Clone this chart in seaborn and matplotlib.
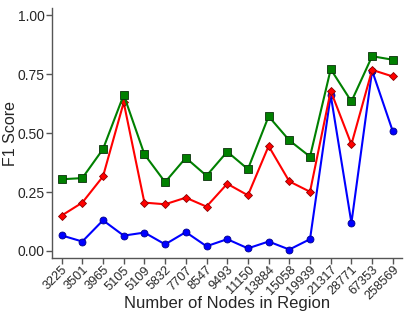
import matplotlib
matplotlib.use("Agg")
import matplotlib.pyplot as plt
import seaborn as sns
import pandas as pd

nodes = ["3225", "3501", "3965", "5105", "5109", "5832", "7707", "8547", "9493",
         "11150", "13884", "15058", "19939", "21317", "28771", "67353", "258569"]
green_vals = [0.304, 0.309, 0.432, 0.662, 0.410, 0.292, 0.395, 0.319, 0.421,
              0.347, 0.571, 0.469, 0.400, 0.771, 0.634, 0.826, 0.811]
red_vals = [0.150, 0.205, 0.316, 0.630, 0.205, 0.198, 0.226, 0.188, 0.285,
            0.236, 0.445, 0.295, 0.251, 0.679, 0.452, 0.768, 0.740]
blue_vals = [0.066, 0.040, 0.130, 0.065, 0.078, 0.028, 0.080, 0.020, 0.050,
             0.011, 0.040, 0.006, 0.050, 0.661, 0.119, 0.765, 0.507]

sns.set_theme(style="ticks")
plt.rcParams["font.family"] = ["Liberation Sans", "DejaVu Sans"]

fig = plt.figure(figsize=(4.15, 3.12), dpi=100)
ax = fig.add_axes([0.125, 0.173, 0.844, 0.801])

series = [
    (blue_vals, "blue", "o", 5.0, "#00008a"),
    (red_vals, "red", "D", 4.2, "#8a0000"),
    (green_vals, "green", "s", 6.0, "#0b300b"),
]
for vals, col, mk, ms, ec in series:
    df = pd.DataFrame({"nodes": nodes, "f1": vals})
    sns.lineplot(data=df, x="nodes", y="f1", sort=False, ax=ax, color=col,
                 marker=mk, markersize=ms, markeredgecolor=ec,
                 markeredgewidth=0.6, linewidth=1.5)

ax.set_xlim(-0.47, 16.45)
ax.set_ylim(-0.03, 1.03)
ax.set_yticks([0.0, 0.25, 0.5, 0.75, 1.0])
ax.set_yticklabels(["0.00", "0.25", "0.50", "0.75", "1.00"])
ax.set_xlabel("Number of Nodes in Region", fontsize=12)
ax.set_ylabel("F1 Score", fontsize=11.5)
ax.xaxis.set_label_coords(0.5, -0.15)
ax.yaxis.set_label_coords(-0.097, 0.5)
ax.tick_params(axis="both", length=4, color="#555555", width=1, pad=1)
ax.tick_params(axis="y", labelsize=10)
ax.tick_params(axis="x", labelsize=9.2, pad=0.3)
plt.setp(ax.get_xticklabels(), rotation=45, ha="right",
         rotation_mode="anchor")
sns.despine(ax=ax)
for s in ["left", "bottom"]:
    ax.spines[s].set_color("#555555")
    ax.spines[s].set_linewidth(1)

fig.savefig("out.png", dpi=100)
